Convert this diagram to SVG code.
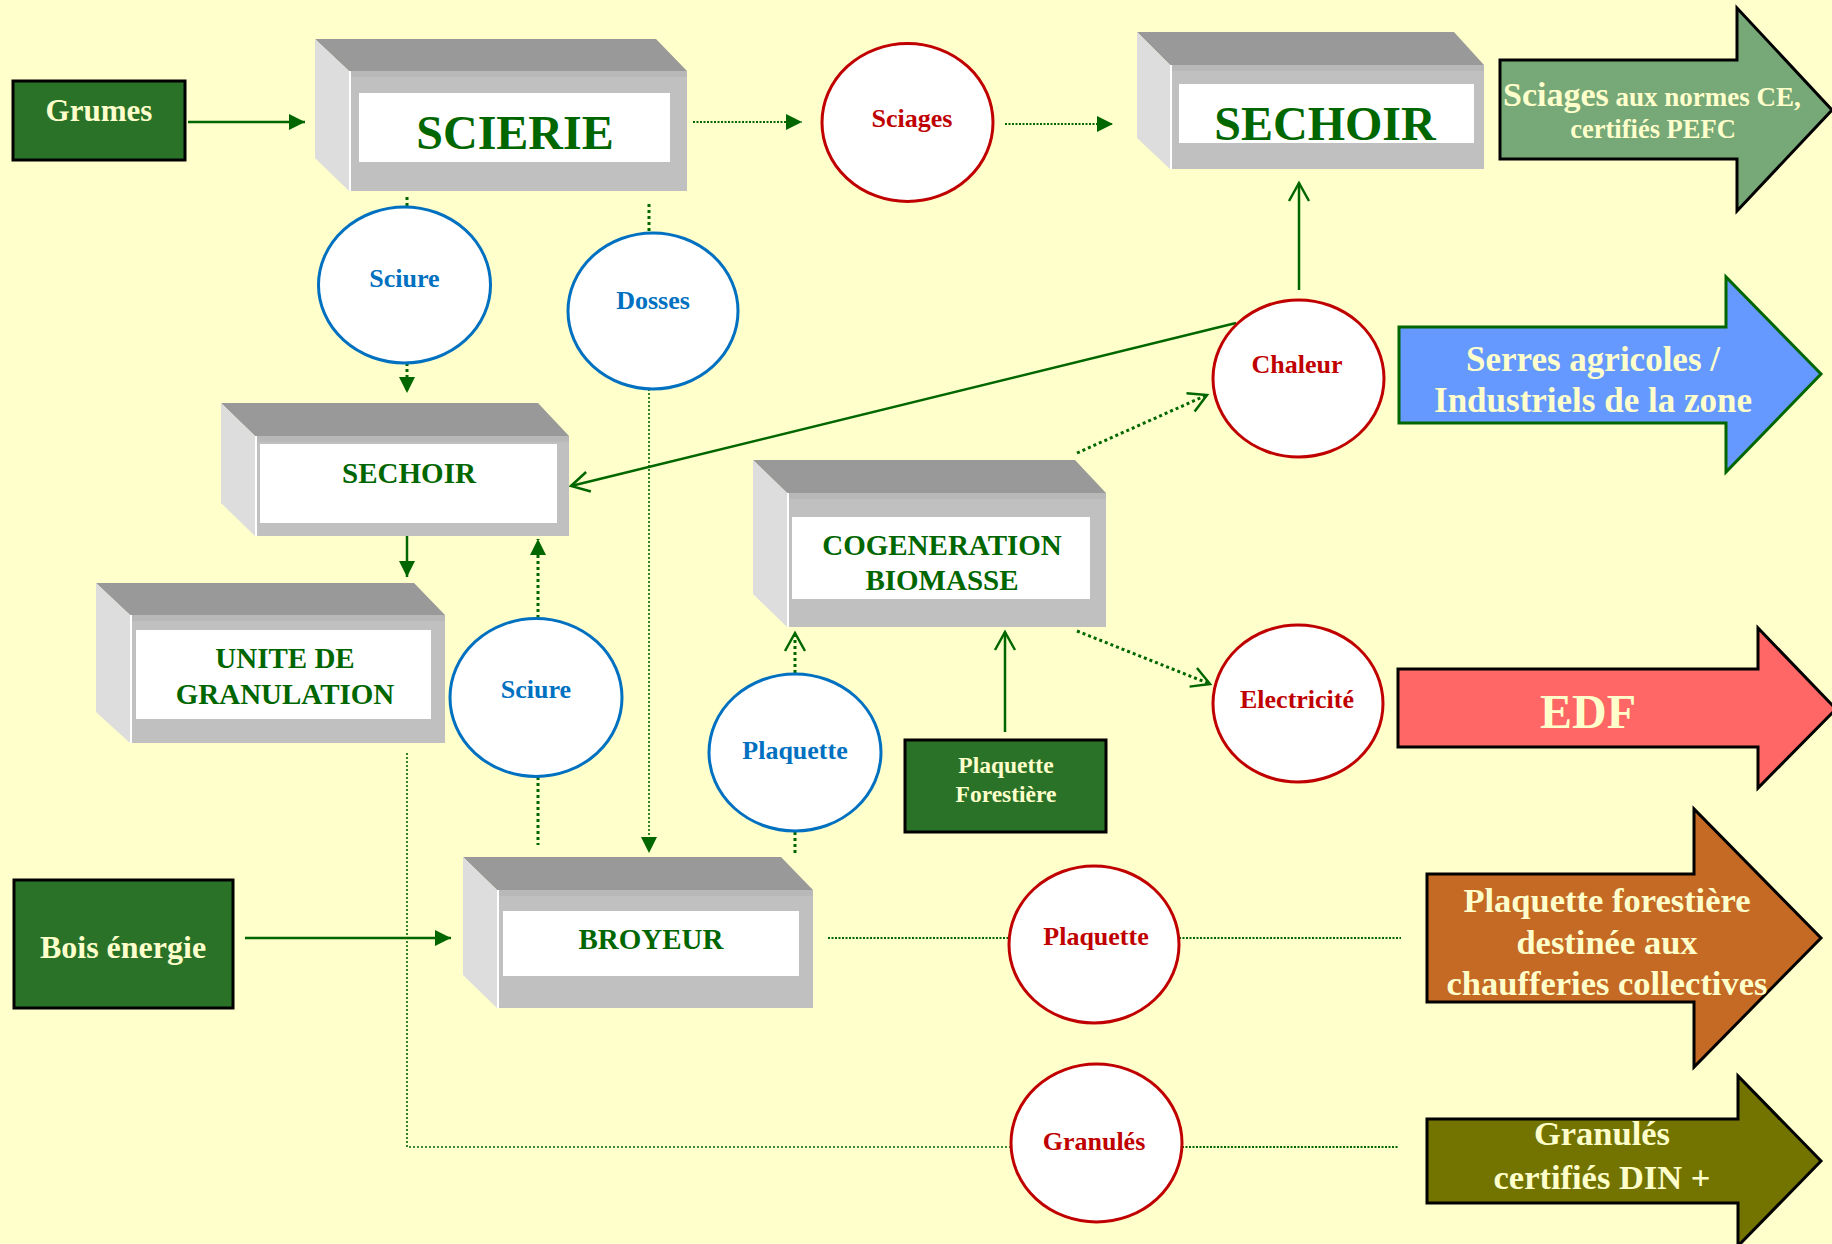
<svg xmlns="http://www.w3.org/2000/svg" width="1832" height="1244" viewBox="0 0 1832 1244">
<defs>
<style>
.bg{fill:#FFFFCC}
.top{fill:#999999}
.side{fill:#DDDDDD}
.front{fill:#C0C0C0}
.band{fill:#B8B8B8}
.lab{fill:#FFFFFF}
.hl{stroke:#FFFFFF;stroke-width:2}
text{font-family:"Liberation Serif","Times New Roman",serif;font-weight:bold;text-anchor:middle}
.t-box{fill:#006600}
.t-cream{fill:#FFFFCC}
.t-blue{fill:#0070C0;font-size:26px}
.t-red{fill:#C00000;font-size:26px}
.eb{fill:#FFFFFF;stroke:#0070C0;stroke-width:3}
.er{fill:#FFFFFF;stroke:#C00000;stroke-width:3}
.gbox{fill:#2A7228;stroke:#000000;stroke-width:3}
.solid{stroke:#006600;stroke-width:2.5;fill:none}
.dot{stroke:#006600;stroke-width:1.6;fill:none;stroke-dasharray:2 2}
.dot2{stroke:#006600;stroke-width:2.2;fill:none;stroke-dasharray:2 1.5}
.dash{stroke:#006600;stroke-width:3;fill:none;stroke-dasharray:3 3}
</style>
<marker id="fa" markerUnits="userSpaceOnUse" markerWidth="16" markerHeight="16" refX="16" refY="8" orient="auto"><path d="M0,0 L16,8 L0,16 Z" fill="#006600"/></marker>
<marker id="oa" markerUnits="userSpaceOnUse" markerWidth="24" markerHeight="24" refX="20" refY="12" orient="auto"><path d="M2,2 L20,12 L2,22" fill="none" stroke="#006600" stroke-width="2.5"/></marker>
</defs>
<rect class="bg" x="0" y="0" width="1832" height="1244"/>

<g id="connectors">
<line class="solid" x1="188" y1="122" x2="305" y2="122" marker-end="url(#fa)"/>
<line class="dot2" x1="693" y1="122" x2="802" y2="122" marker-end="url(#fa)"/>
<line class="dot2" x1="1005" y1="124" x2="1113" y2="124" marker-end="url(#fa)"/>
<line class="dash" x1="407" y1="197" x2="407" y2="207"/>
<line class="dash" x1="407" y1="363" x2="407" y2="393" marker-end="url(#fa)"/>
<line class="dash" x1="649" y1="204" x2="649" y2="232"/>
<line class="dot" x1="649" y1="389" x2="649" y2="853" marker-end="url(#fa)"/>
<line class="solid" x1="407" y1="536" x2="407" y2="577" marker-end="url(#fa)"/>
<line class="dash" x1="538" y1="618" x2="538" y2="539" marker-end="url(#fa)"/>
<line class="dash" x1="538" y1="777" x2="538" y2="845"/>
<polyline class="dot" points="407,753 407,1147 1011,1147"/>
<line class="dot2" x1="1182" y1="1147" x2="1398" y2="1147"/>
<line class="dot2" x1="828" y1="938" x2="1009" y2="938"/>
<line class="dot2" x1="1179" y1="938" x2="1401" y2="938"/>
<line class="dash" x1="795" y1="853" x2="795" y2="831"/>
<line class="dash" x1="795" y1="673" x2="795" y2="633" marker-end="url(#oa)"/>
<line class="solid" x1="1005" y1="732" x2="1005" y2="632" marker-end="url(#oa)"/>
<line class="dash" x1="1077" y1="453" x2="1207" y2="395" marker-end="url(#oa)"/>
<line class="dash" x1="1077" y1="631" x2="1210" y2="684" marker-end="url(#oa)"/>
<line class="solid" x1="1299" y1="290" x2="1299" y2="183" marker-end="url(#oa)"/>
<line class="solid" x1="1236" y1="323" x2="571" y2="486" marker-end="url(#oa)"/>
<line class="solid" x1="245" y1="938" x2="451" y2="938" marker-end="url(#fa)"/>
</g>

<g id="grumes">
<rect class="gbox" x="13" y="81" width="172" height="79"/>
<text class="t-cream" x="99" y="121" font-size="31">Grumes</text>
</g>

<g id="scierie">
<polygon class="top" points="315,39 656,39 687,71 349,71"/>
<polygon class="side" points="315,39 349,71 349,191 315,158"/>
<rect class="front" x="349" y="71" width="338" height="120"/>
<rect class="band" x="349" y="71" width="338" height="6"/>
<line class="hl" x1="350" y1="71" x2="350" y2="191"/>
<rect class="lab" x="359" y="93" width="311" height="69"/>
<text class="t-box" x="515" y="149" font-size="48">SCIERIE</text>
</g>

<g id="sechoir-haut">
<polygon class="top" points="1137,32 1454,32 1484,65 1170,65"/>
<polygon class="side" points="1137,32 1170,65 1170,169 1137,138"/>
<rect class="front" x="1170" y="65" width="314" height="104"/>
<rect class="band" x="1170" y="65" width="314" height="6"/>
<line class="hl" x1="1171" y1="65" x2="1171" y2="169"/>
<rect class="lab" x="1179" y="84" width="295" height="59"/>
<text class="t-box" x="1325" y="140" font-size="48">SECHOIR</text>
</g>

<g id="sechoir-bas">
<polygon class="top" points="221,403 538,403 569,436 255,436"/>
<polygon class="side" points="221,403 255,436 255,536 221,503"/>
<rect class="front" x="255" y="436" width="314" height="100"/>
<rect class="band" x="255" y="436" width="314" height="6"/>
<line class="hl" x1="256" y1="436" x2="256" y2="536"/>
<rect class="lab" x="260" y="444" width="297" height="79"/>
<text class="t-box" x="409" y="483" font-size="29">SECHOIR</text>
</g>

<g id="granulation">
<polygon class="top" points="96,583 414,583 445,615 130,615"/>
<polygon class="side" points="96,583 130,615 130,743 96,712"/>
<rect class="front" x="130" y="615" width="315" height="128"/>
<rect class="band" x="130" y="615" width="315" height="6"/>
<line class="hl" x1="131" y1="615" x2="131" y2="743"/>
<rect class="lab" x="136" y="630" width="295" height="89"/>
<text class="t-box" x="285" y="668" font-size="29">UNITE DE</text>
<text class="t-box" x="285" y="704" font-size="29">GRANULATION</text>
</g>

<g id="cogeneration">
<polygon class="top" points="753,460 1075,460 1106,493 787,493"/>
<polygon class="side" points="753,460 787,493 787,627 753,594"/>
<rect class="front" x="787" y="493" width="319" height="134"/>
<rect class="band" x="787" y="493" width="319" height="6"/>
<line class="hl" x1="788" y1="493" x2="788" y2="627"/>
<rect class="lab" x="792" y="517" width="298" height="82"/>
<text class="t-box" x="942" y="555" font-size="29">COGENERATION</text>
<text class="t-box" x="942" y="590" font-size="29">BIOMASSE</text>
</g>

<g id="broyeur">
<polygon class="top" points="463,857 781,857 813,890 497,890"/>
<polygon class="side" points="463,857 497,890 497,1008 463,975"/>
<rect class="front" x="497" y="890" width="316" height="118"/>
<rect class="band" x="497" y="890" width="316" height="6"/>
<line class="hl" x1="498" y1="890" x2="498" y2="1008"/>
<rect class="lab" x="503" y="911" width="296" height="65"/>
<text class="t-box" x="651" y="949" font-size="29">BROYEUR</text>
</g>

<g id="bois-energie">
<rect class="gbox" x="14" y="880" width="219" height="128"/>
<text class="t-cream" x="123" y="958" font-size="32">Bois énergie</text>
</g>

<g id="plaquette-forestiere-src">
<rect class="gbox" x="905" y="740" width="201" height="92"/>
<text class="t-cream" x="1006" y="773" font-size="23.5">Plaquette</text>
<text class="t-cream" x="1006" y="802" font-size="23.5">Forestière</text>
</g>

<g id="sciure1">
<ellipse class="eb" cx="404.5" cy="285" rx="86" ry="78"/>
<text class="t-blue" x="404.5" y="287">Sciure</text>
</g>
<g id="dosses">
<ellipse class="eb" cx="653" cy="311" rx="85" ry="78"/>
<text class="t-blue" x="653" y="309">Dosses</text>
</g>
<g id="sciure2">
<ellipse class="eb" cx="536" cy="697.5" rx="86" ry="79"/>
<text class="t-blue" x="536" y="698">Sciure</text>
</g>
<g id="plaquette-bleu">
<ellipse class="eb" cx="795" cy="752.5" rx="86" ry="78.5"/>
<text class="t-blue" x="795" y="759">Plaquette</text>
</g>
<g id="sciages">
<ellipse class="er" cx="907.5" cy="122.5" rx="85.5" ry="79"/>
<text class="t-red" x="912" y="127">Sciages</text>
</g>
<g id="chaleur">
<ellipse class="er" cx="1298.5" cy="378.5" rx="85.5" ry="78.5"/>
<text class="t-red" x="1297" y="373">Chaleur</text>
</g>
<g id="electricite">
<ellipse class="er" cx="1298" cy="703.5" rx="85" ry="78.5"/>
<text class="t-red" x="1297" y="708">Electricité</text>
</g>
<g id="plaquette-rouge">
<ellipse class="er" cx="1094" cy="944.5" rx="85" ry="78.5"/>
<text class="t-red" x="1096" y="945">Plaquette</text>
</g>
<g id="granules">
<ellipse class="er" cx="1096.5" cy="1143" rx="85.5" ry="79"/>
<text class="t-red" x="1094" y="1150">Granulés</text>
</g>

<g id="out-sciages">
<polygon points="1500,60 1737,60 1737,8 1832,110 1737,211 1737,159 1500,159" fill="#77A877" stroke="#000000" stroke-width="3"/>
<text class="t-cream" x="1503" y="106" style="text-anchor:start"><tspan font-size="34">Sciages</tspan><tspan font-size="27"> aux normes CE,</tspan></text>
<text class="t-cream" x="1653" y="138" font-size="26.5">certifiés PEFC</text>
</g>

<g id="out-serres">
<polygon points="1399,327 1726,327 1726,277 1821,374 1726,472 1726,423 1399,423" fill="#6699FF" stroke="#006600" stroke-width="3"/>
<text class="t-cream" x="1593" y="371" font-size="35">Serres agricoles /</text>
<text class="t-cream" x="1593" y="412" font-size="35">Industriels de la zone</text>
</g>

<g id="out-edf">
<polygon points="1398,669 1758,669 1758,628 1836,709 1758,788 1758,747 1398,747" fill="#FF6666" stroke="#000000" stroke-width="3"/>
<text class="t-cream" x="1588" y="728" font-size="48">EDF</text>
</g>

<g id="out-plaquette">
<polygon points="1427,874 1694,874 1694,809 1821,938 1694,1067 1694,1002 1427,1002" fill="#C46A24" stroke="#000000" stroke-width="3"/>
<text class="t-cream" x="1607" y="912" font-size="34.5">Plaquette forestière</text>
<text class="t-cream" x="1607" y="954" font-size="34.5">destinée aux</text>
<text class="t-cream" x="1607" y="995" font-size="34.5">chaufferies collectives</text>
</g>

<g id="out-granules">
<polygon points="1427,1119 1738,1119 1738,1076 1821,1161 1738,1246 1738,1203 1427,1203" fill="#737300" stroke="#000000" stroke-width="3"/>
<text class="t-cream" x="1602" y="1145" font-size="34.5">Granulés</text>
<text class="t-cream" x="1602" y="1189" font-size="34.5">certifiés DIN +</text>
</g>
</svg>
